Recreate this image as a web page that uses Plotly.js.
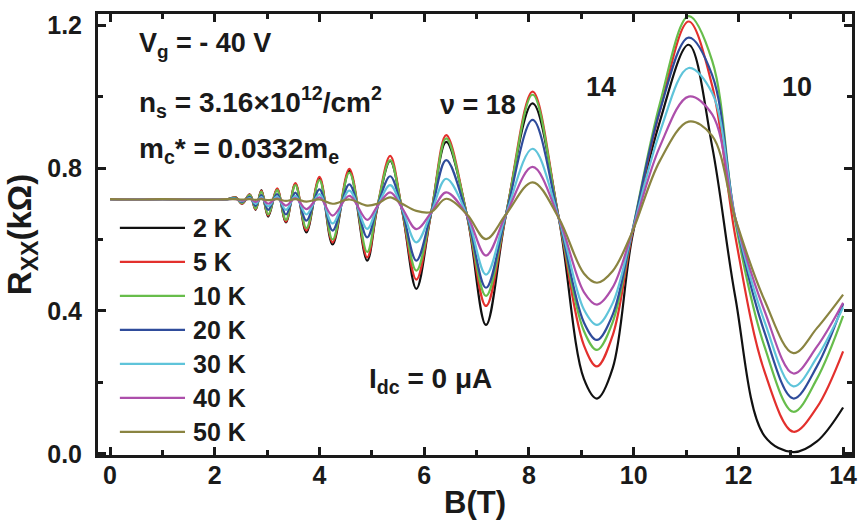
<!DOCTYPE html>
<html>
<head>
<meta charset="utf-8">
<script src="https://cdn.plot.ly/plotly-3.0.1.min.js"></script>
<style>html,body{margin:0;padding:0;background:#fff;}#chart{width:859px;height:523px;}</style>
</head>
<body>
<div id="chart"></div>
<script>
// Magnetic field B (T)
const B = [0, 0.5, 1.0, 1.5, 2.0, 2.25, 2.40, 2.52, 2.67, 2.78,
           2.89, 3.02, 3.19, 3.36, 3.54, 3.75, 4.0, 4.25, 4.57, 4.91,
           5.1, 5.35, 5.58, 5.85, 6.13, 6.42, 6.82, 7.18, 7.56, 8.07,
           8.57, 9.05, 9.3, 9.6, 9.97, 10.5, 11.05, 11.5, 11.94, 12.5,
           13.05, 13.5, 14.0];

// R_xx (kOhm) for each temperature
const r2K = [0.713,0.712,0.713,0.712,0.712, 0.713,0.718,0.700,0.726,0.683,
             0.738,0.664,0.741,0.648,0.756, 0.620,0.771,0.586,0.792,0.541,
             0.685,0.820,0.680,0.462,0.672, 0.873,0.665,0.361,0.668,0.981,
             0.660,0.210,0.155,0.240,0.605, 0.930,1.145,0.860,0.440,0.050,
             0.005,0.035,0.130];
const r5K = [0.713,0.712,0.713,0.712,0.712, 0.713,0.718,0.700,0.726,0.684,
             0.737,0.667,0.743,0.650,0.758, 0.625,0.775,0.592,0.798,0.550,
             0.688,0.834,0.680,0.488,0.672, 0.892,0.665,0.414,0.668,1.014,
             0.660,0.304,0.245,0.332,0.614, 0.960,1.210,1.030,0.610,0.230,
             0.062,0.130,0.287];
const r10K = [0.713,0.712,0.713,0.712,0.712, 0.713,0.717,0.702,0.724,0.686,
              0.734,0.670,0.738,0.655,0.752, 0.632,0.766,0.600,0.787,0.565,
              0.690,0.822,0.682,0.513,0.673, 0.883,0.666,0.442,0.669,1.005,
              0.660,0.344,0.291,0.369,0.620, 0.980,1.225,1.100,0.650,0.300,
              0.118,0.210,0.386];
const r20K = [0.713,0.712,0.713,0.712,0.712, 0.713,0.715,0.705,0.719,0.694,
              0.724,0.683,0.727,0.670,0.731, 0.653,0.740,0.625,0.754,0.606,
              0.690,0.777,0.683,0.541,0.673, 0.822,0.666,0.465,0.669,0.935,
              0.660,0.368,0.319,0.390,0.620, 0.960,1.165,1.060,0.660,0.340,
              0.155,0.245,0.420];
const r30K = [0.713,0.712,0.713,0.712,0.712, 0.713,0.714,0.707,0.716,0.700,
              0.719,0.693,0.720,0.683,0.722, 0.670,0.727,0.645,0.737,0.630,
              0.690,0.752,0.685,0.592,0.674, 0.770,0.667,0.502,0.669,0.854,
              0.660,0.404,0.361,0.422,0.620, 0.900,1.080,1.010,0.660,0.370,
              0.189,0.270,0.410];
const r40K = [0.713,0.712,0.713,0.712,0.712, 0.713,0.713,0.709,0.714,0.705,
              0.715,0.700,0.715,0.695,0.716, 0.685,0.718,0.667,0.722,0.655,
              0.692,0.732,0.688,0.629,0.675, 0.732,0.667,0.555,0.669,0.803,
              0.660,0.453,0.418,0.466,0.620, 0.860,1.000,0.950,0.660,0.400,
              0.225,0.300,0.423];
const r50K = [0.713,0.712,0.713,0.712,0.712, 0.713,0.713,0.712,0.713,0.711,
              0.713,0.710,0.713,0.708,0.713, 0.706,0.712,0.700,0.712,0.695,
              0.700,0.718,0.700,0.680,0.677, 0.714,0.670,0.601,0.670,0.760,
              0.660,0.505,0.479,0.512,0.620, 0.820,0.930,0.890,0.660,0.430,
              0.282,0.352,0.446];

const seriesNames = ['2 K', '5 K', '10 K', '20 K', '30 K', '40 K', '50 K'];
const seriesValues = [r2K, r5K, r10K, r20K, r30K, r40K, r50K];
const seriesColors = ['#111111', '#e3302d', '#67bd4b', '#2f4c9b', '#5fc4da', '#ad4fab', '#8a8441'];

const FONT = 'Arial, "Liberation Sans", Helvetica, sans-serif';
const INK = '#1a1a1a';

const traces = seriesValues.map((vals, i) => ({
  type: 'scatter', mode: 'lines', name: seriesNames[i],
  x: B, y: vals,
  line: {color: seriesColors[i], width: 2.2, shape: 'spline', smoothing: 1},
  showlegend: false, hoverinfo: 'x+y+name'
}));

// custom legend (long line samples like the original)
const legShapes = [];
const legAnn = [];
const legTop = 0.515, legStep = 0.0771;
seriesNames.forEach((nm, i) => {
  const yy = legTop - i * legStep;
  legShapes.push({type: 'line', xref: 'paper', yref: 'paper', x0: 0.029, x1: 0.1154, y0: yy, y1: yy,
                  line: {color: seriesColors[i], width: 2.2}});
  legAnn.push({xref: 'paper', yref: 'paper', x: 0.124, y: yy, xanchor: 'left', yanchor: 'middle',
               text: nm, showarrow: false, font: {family: FONT, size: 25, color: INK, weight: 'bold'}});
});

const annFont = {family: FONT, size: 27, color: INK, weight: 'bold'};
const annFont28 = {family: FONT, size: 28, color: INK, weight: 'bold'};
const textAnn = [
  {x: 0.052, y: 0.93, text: 'V<sub>g</sub> = - 40 V', xanchor: 'left', font: annFont},
  {x: 0.052, y: 0.80, text: 'n<sub>s</sub> = 3.16×10<sup>12</sup>/cm<sup>2</sup>', xanchor: 'left', font: annFont28},
  {x: 0.052, y: 0.69, text: 'm<sub>c</sub>* = 0.0332m<sub>e</sub>', xanchor: 'left', font: annFont28},
  {x: 0.504, y: 0.794, text: 'ν = 18', xanchor: 'center', font: annFont},
  {x: 0.667, y: 0.834, text: '14', xanchor: 'center', font: annFont},
  {x: 0.927, y: 0.834, text: '10', xanchor: 'center', font: annFont},
  {x: 0.357, y: 0.17, text: 'I<sub>dc</sub> = 0 μA', xanchor: 'left', font: annFont28}
].map(a => Object.assign({xref: 'paper', yref: 'paper', yanchor: 'middle', showarrow: false}, a));

const axisCommon = {
  showline: true, linewidth: 3, linecolor: INK, mirror: 'allticks',
  ticks: 'inside', ticklen: 8, tickwidth: 2.5, tickcolor: INK,
  showgrid: false, zeroline: false,
  tickfont: {family: FONT, size: 25, color: INK, weight: 'bold'}
};

const layout = {
  width: 859, height: 523,
  margin: {l: 98, r: 7, t: 14, b: 68},
  paper_bgcolor: '#ffffff', plot_bgcolor: '#ffffff',
  showlegend: false,
  font: {family: FONT, color: INK},
  xaxis: Object.assign({}, axisCommon, {
    range: [-0.23, 14.17], tick0: 0, dtick: 2,
    minor: {dtick: 1, ticks: 'inside', ticklen: 5, tickwidth: 2.5, tickcolor: INK, showgrid: false},
    ticklabelstandoff: -4,
    title: {text: 'B(T)', font: {family: FONT, size: 31, color: INK, weight: 'bold'}, standoff: 4}
  }),
  yaxis: Object.assign({}, axisCommon, {
    range: [-0.003, 1.231], tick0: 0, dtick: 0.4, tickformat: '.1f',
    minor: {dtick: 0.2, ticks: 'inside', ticklen: 5, tickwidth: 2.5, tickcolor: INK, showgrid: false},
    ticklabelstandoff: 8,
    title: {text: 'R<sub>XX</sub>(kΩ)', font: {family: FONT, size: 33, color: INK, weight: 'bold'}, standoff: 6}
  }),
  shapes: legShapes,
  annotations: textAnn.concat(legAnn)
};

Plotly.newPlot('chart', traces, layout, {displayModeBar: false, responsive: false});
</script>
</body>
</html>
